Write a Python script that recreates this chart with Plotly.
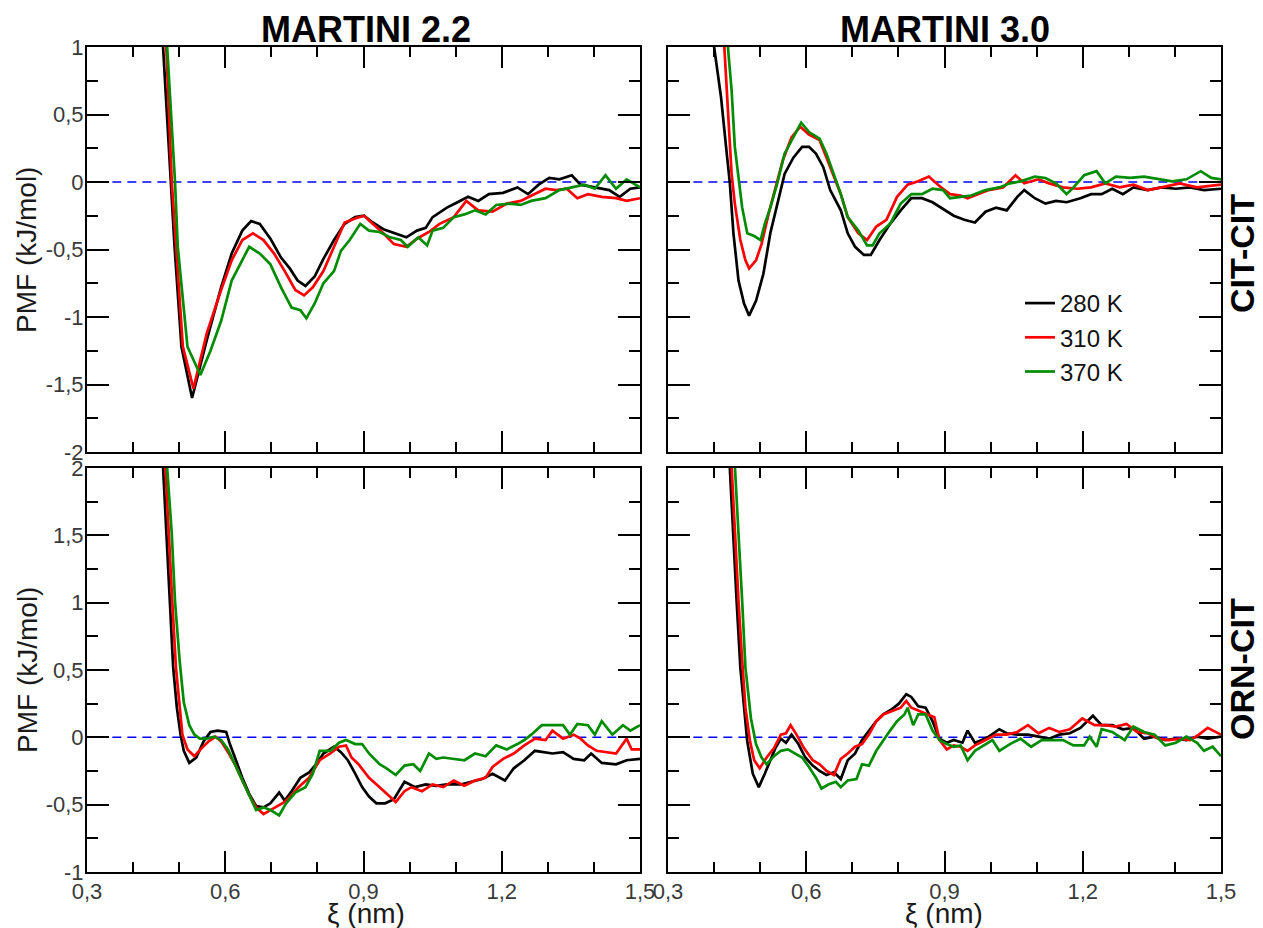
import plotly.graph_objects as go

# ---------------- data (xi in nm, PMF in kJ/mol) ----------------
series_names = ["280 K", "310 K", "370 K"]
series_colors = ["#000000", "#ff0000", "#008c00"]

zero_x = [0.355, 1.5]
zero_y = [0.0, 0.0]

# MARTINI 2.2, CIT-CIT
m22_cit_280_x = [0.460, 0.465, 0.481, 0.490, 0.505, 0.528, 0.560, 0.591, 0.614, 0.637, 0.656, 0.675, 0.698, 0.721, 0.740, 0.757, 0.774, 0.794, 0.813, 0.836, 0.859, 0.882, 0.901, 0.920, 0.943, 0.966, 0.993, 1.016, 1.035, 1.050, 1.081, 1.104, 1.127, 1.149, 1.172, 1.203, 1.234, 1.257, 1.280, 1.303, 1.325, 1.352, 1.371, 1.402, 1.433, 1.456, 1.479, 1.500]
m22_cit_280_y = [1.30, 1.00, 0.00, -0.48, -1.22, -1.60, -1.17, -0.78, -0.53, -0.36, -0.29, -0.31, -0.42, -0.56, -0.64, -0.73, -0.77, -0.70, -0.57, -0.43, -0.31, -0.26, -0.25, -0.30, -0.35, -0.38, -0.41, -0.36, -0.34, -0.26, -0.19, -0.15, -0.11, -0.14, -0.09, -0.08, -0.04, -0.09, -0.02, 0.03, 0.02, 0.05, -0.02, -0.04, -0.06, -0.11, -0.05, -0.04]
m22_cit_310_x = [0.466, 0.472, 0.484, 0.493, 0.508, 0.531, 0.560, 0.591, 0.614, 0.637, 0.660, 0.683, 0.706, 0.729, 0.752, 0.771, 0.790, 0.813, 0.836, 0.859, 0.882, 0.901, 0.920, 0.943, 0.966, 0.993, 1.016, 1.042, 1.065, 1.096, 1.123, 1.149, 1.180, 1.211, 1.241, 1.272, 1.295, 1.318, 1.341, 1.364, 1.387, 1.417, 1.448, 1.471, 1.500]
m22_cit_310_y = [1.30, 1.00, 0.00, -0.48, -1.22, -1.53, -1.12, -0.80, -0.58, -0.43, -0.38, -0.43, -0.53, -0.66, -0.80, -0.84, -0.78, -0.66, -0.48, -0.30, -0.27, -0.25, -0.31, -0.38, -0.46, -0.48, -0.42, -0.37, -0.31, -0.26, -0.14, -0.21, -0.22, -0.16, -0.14, -0.09, -0.05, -0.06, -0.05, -0.12, -0.09, -0.11, -0.12, -0.14, -0.12]
m22_cit_370_x = [0.468, 0.474, 0.491, 0.497, 0.518, 0.546, 0.568, 0.591, 0.614, 0.637, 0.652, 0.675, 0.698, 0.721, 0.744, 0.763, 0.776, 0.794, 0.813, 0.836, 0.851, 0.870, 0.893, 0.912, 0.935, 0.958, 0.981, 0.996, 1.019, 1.038, 1.050, 1.073, 1.096, 1.119, 1.142, 1.165, 1.188, 1.218, 1.241, 1.264, 1.295, 1.325, 1.356, 1.379, 1.402, 1.425, 1.448, 1.471, 1.500]
m22_cit_370_y = [1.30, 1.00, 0.00, -0.48, -1.22, -1.43, -1.25, -1.03, -0.73, -0.58, -0.48, -0.53, -0.61, -0.78, -0.93, -0.95, -1.01, -0.90, -0.75, -0.66, -0.51, -0.43, -0.31, -0.36, -0.37, -0.41, -0.43, -0.48, -0.41, -0.47, -0.36, -0.34, -0.26, -0.24, -0.21, -0.24, -0.17, -0.16, -0.17, -0.14, -0.12, -0.06, -0.04, -0.02, -0.05, 0.05, -0.05, 0.02, -0.04]

# MARTINI 3.0, CIT-CIT
m30_cit_280_x = [0.390, 0.400, 0.415, 0.426, 0.434, 0.442, 0.453, 0.465, 0.476, 0.491, 0.507, 0.522, 0.537, 0.553, 0.572, 0.591, 0.606, 0.621, 0.637, 0.652, 0.675, 0.690, 0.706, 0.725, 0.740, 0.759, 0.782, 0.805, 0.828, 0.851, 0.874, 0.893, 0.920, 0.943, 0.966, 0.989, 1.012, 1.035, 1.058, 1.073, 1.096, 1.119, 1.142, 1.165, 1.195, 1.218, 1.241, 1.264, 1.287, 1.310, 1.341, 1.371, 1.402, 1.433, 1.463, 1.500]
m30_cit_280_y = [1.25, 1.00, 0.63, 0.26, 0.00, -0.38, -0.73, -0.90, -0.99, -0.88, -0.68, -0.38, -0.16, 0.06, 0.18, 0.26, 0.26, 0.21, 0.11, -0.06, -0.21, -0.38, -0.48, -0.54, -0.54, -0.43, -0.31, -0.21, -0.12, -0.12, -0.15, -0.19, -0.25, -0.28, -0.30, -0.22, -0.19, -0.21, -0.11, -0.06, -0.12, -0.16, -0.14, -0.15, -0.12, -0.09, -0.09, -0.05, -0.09, -0.04, -0.06, -0.04, -0.05, -0.04, -0.06, -0.05]
m30_cit_310_x = [0.418, 0.422, 0.430, 0.438, 0.445, 0.457, 0.468, 0.476, 0.491, 0.503, 0.518, 0.533, 0.549, 0.568, 0.587, 0.606, 0.629, 0.644, 0.660, 0.675, 0.690, 0.713, 0.732, 0.752, 0.774, 0.797, 0.820, 0.843, 0.866, 0.889, 0.912, 0.935, 0.950, 0.973, 0.996, 1.027, 1.054, 1.073, 1.104, 1.127, 1.157, 1.188, 1.218, 1.249, 1.280, 1.310, 1.341, 1.371, 1.410, 1.448, 1.500]
m30_cit_310_y = [1.25, 1.00, 0.51, 0.06, -0.16, -0.43, -0.58, -0.64, -0.58, -0.46, -0.24, -0.04, 0.16, 0.33, 0.41, 0.35, 0.31, 0.18, 0.04, -0.09, -0.26, -0.38, -0.43, -0.33, -0.28, -0.11, -0.02, 0.005, 0.04, -0.03, -0.09, -0.10, -0.12, -0.09, -0.06, -0.04, 0.05, -0.01, 0.02, -0.01, -0.04, -0.05, -0.04, -0.01, -0.04, -0.02, -0.06, -0.04, -0.01, -0.04, -0.02]
m30_cit_370_x = [0.425, 0.430, 0.438, 0.445, 0.453, 0.461, 0.472, 0.487, 0.501, 0.510, 0.522, 0.537, 0.553, 0.572, 0.589, 0.606, 0.629, 0.644, 0.660, 0.675, 0.690, 0.713, 0.732, 0.744, 0.759, 0.782, 0.805, 0.828, 0.851, 0.874, 0.897, 0.912, 0.935, 0.958, 0.989, 1.019, 1.042, 1.065, 1.096, 1.119, 1.142, 1.165, 1.180, 1.203, 1.230, 1.249, 1.272, 1.303, 1.333, 1.364, 1.394, 1.425, 1.456, 1.479, 1.500]
m30_cit_370_y = [1.20, 1.00, 0.68, 0.26, 0.01, -0.19, -0.38, -0.40, -0.43, -0.31, -0.19, -0.01, 0.21, 0.33, 0.44, 0.37, 0.32, 0.21, 0.06, -0.09, -0.26, -0.36, -0.47, -0.47, -0.38, -0.31, -0.16, -0.09, -0.09, -0.05, -0.06, -0.12, -0.11, -0.10, -0.06, -0.04, -0.01, 0.005, 0.04, 0.03, -0.01, -0.09, -0.04, 0.05, 0.08, -0.01, 0.04, 0.03, 0.04, 0.02, 0.005, 0.02, 0.08, 0.03, 0.02]

# MARTINI 2.2, ORN-CIT
m22_orn_280_x = [0.461, 0.465, 0.472, 0.480, 0.487, 0.495, 0.503, 0.510, 0.522, 0.537, 0.553, 0.568, 0.583, 0.602, 0.610, 0.621, 0.637, 0.652, 0.667, 0.683, 0.698, 0.717, 0.729, 0.744, 0.763, 0.782, 0.797, 0.813, 0.836, 0.851, 0.866, 0.882, 0.897, 0.912, 0.928, 0.947, 0.966, 0.989, 1.012, 1.035, 1.058, 1.081, 1.111, 1.134, 1.157, 1.180, 1.207, 1.226, 1.249, 1.272, 1.287, 1.310, 1.333, 1.356, 1.379, 1.394, 1.417, 1.448, 1.471, 1.500]
m22_orn_280_y = [2.28, 2.00, 1.51, 1.01, 0.52, 0.22, 0.02, -0.10, -0.19, -0.15, -0.03, 0.04, 0.05, 0.04, -0.05, -0.15, -0.30, -0.42, -0.51, -0.52, -0.49, -0.41, -0.47, -0.40, -0.30, -0.26, -0.20, -0.12, -0.07, -0.11, -0.17, -0.27, -0.37, -0.44, -0.49, -0.49, -0.46, -0.33, -0.37, -0.35, -0.36, -0.35, -0.35, -0.33, -0.31, -0.27, -0.32, -0.23, -0.17, -0.10, -0.11, -0.12, -0.11, -0.16, -0.17, -0.12, -0.19, -0.20, -0.17, -0.16]
m22_orn_310_x = [0.466, 0.470, 0.478, 0.485, 0.493, 0.501, 0.507, 0.518, 0.533, 0.549, 0.564, 0.579, 0.591, 0.606, 0.621, 0.637, 0.652, 0.667, 0.683, 0.698, 0.713, 0.729, 0.744, 0.759, 0.782, 0.805, 0.828, 0.847, 0.862, 0.874, 0.889, 0.912, 0.935, 0.950, 0.970, 0.989, 1.004, 1.027, 1.050, 1.073, 1.096, 1.119, 1.142, 1.165, 1.180, 1.203, 1.226, 1.249, 1.272, 1.295, 1.310, 1.333, 1.356, 1.371, 1.387, 1.406, 1.433, 1.448, 1.471, 1.482, 1.500]
m22_orn_310_y = [2.28, 2.00, 1.51, 1.01, 0.52, 0.22, 0.02, -0.09, -0.14, -0.08, -0.03, 0.005, -0.03, -0.11, -0.20, -0.32, -0.43, -0.52, -0.57, -0.54, -0.51, -0.48, -0.43, -0.37, -0.30, -0.17, -0.12, -0.07, -0.06, -0.15, -0.20, -0.30, -0.37, -0.42, -0.48, -0.40, -0.37, -0.40, -0.35, -0.37, -0.32, -0.36, -0.32, -0.30, -0.22, -0.16, -0.12, -0.06, -0.01, -0.02, 0.05, -0.01, 0.02, -0.01, -0.06, -0.10, -0.11, -0.12, -0.01, -0.09, -0.09]
m22_orn_370_x = [0.470, 0.474, 0.484, 0.491, 0.501, 0.510, 0.522, 0.533, 0.545, 0.560, 0.576, 0.591, 0.606, 0.621, 0.637, 0.652, 0.667, 0.683, 0.698, 0.717, 0.732, 0.752, 0.774, 0.790, 0.805, 0.828, 0.847, 0.862, 0.882, 0.897, 0.912, 0.935, 0.950, 0.970, 0.989, 1.008, 1.023, 1.042, 1.058, 1.073, 1.096, 1.119, 1.142, 1.165, 1.188, 1.211, 1.234, 1.249, 1.264, 1.287, 1.310, 1.333, 1.348, 1.364, 1.387, 1.402, 1.417, 1.440, 1.463, 1.479, 1.500]
m22_orn_370_y = [2.28, 2.00, 1.51, 1.01, 0.57, 0.26, 0.09, 0.02, -0.01, -0.01, 0.005, -0.02, -0.09, -0.20, -0.32, -0.43, -0.54, -0.52, -0.54, -0.58, -0.49, -0.41, -0.37, -0.27, -0.10, -0.10, -0.04, -0.02, -0.05, -0.05, -0.12, -0.20, -0.23, -0.28, -0.21, -0.20, -0.25, -0.12, -0.16, -0.15, -0.16, -0.17, -0.12, -0.14, -0.06, -0.09, -0.05, -0.02, 0.02, 0.09, 0.09, 0.09, 0.02, 0.10, 0.09, 0.02, 0.12, 0.02, 0.09, 0.05, 0.09]

# MARTINI 3.0, ORN-CIT
m30_orn_280_x = [0.430, 0.434, 0.442, 0.449, 0.457, 0.465, 0.472, 0.484, 0.497, 0.510, 0.522, 0.533, 0.545, 0.556, 0.568, 0.583, 0.598, 0.614, 0.629, 0.644, 0.660, 0.675, 0.690, 0.706, 0.721, 0.736, 0.752, 0.767, 0.786, 0.801, 0.817, 0.828, 0.843, 0.859, 0.874, 0.889, 0.905, 0.920, 0.939, 0.950, 0.966, 0.981, 0.996, 1.019, 1.035, 1.058, 1.081, 1.104, 1.127, 1.149, 1.172, 1.195, 1.222, 1.241, 1.264, 1.287, 1.310, 1.333, 1.356, 1.379, 1.402, 1.425, 1.448, 1.471, 1.500]
m30_orn_280_y = [2.28, 2.00, 1.51, 1.01, 0.52, 0.22, -0.03, -0.27, -0.37, -0.27, -0.17, -0.08, -0.01, -0.04, 0.02, -0.05, -0.15, -0.21, -0.25, -0.28, -0.26, -0.31, -0.17, -0.12, -0.02, 0.05, 0.12, 0.17, 0.21, 0.25, 0.32, 0.30, 0.23, 0.22, 0.12, -0.01, -0.04, -0.02, -0.04, 0.05, -0.04, -0.02, 0.005, 0.06, 0.03, 0.02, 0.02, 0.005, -0.01, 0.02, 0.03, 0.07, 0.16, 0.09, 0.09, 0.06, 0.07, -0.01, 0.005, -0.02, -0.01, -0.02, 0.005, -0.01, 0.005]
m30_orn_310_x = [0.434, 0.438, 0.445, 0.453, 0.461, 0.468, 0.478, 0.487, 0.499, 0.514, 0.530, 0.545, 0.556, 0.566, 0.579, 0.595, 0.614, 0.629, 0.644, 0.660, 0.675, 0.690, 0.706, 0.721, 0.736, 0.752, 0.767, 0.790, 0.805, 0.817, 0.828, 0.843, 0.862, 0.878, 0.889, 0.905, 0.920, 0.935, 0.950, 0.966, 0.989, 1.012, 1.035, 1.058, 1.081, 1.104, 1.127, 1.149, 1.172, 1.199, 1.226, 1.249, 1.272, 1.295, 1.318, 1.341, 1.364, 1.387, 1.410, 1.433, 1.452, 1.471, 1.500]
m30_orn_310_y = [2.28, 2.00, 1.51, 1.01, 0.57, 0.22, -0.03, -0.17, -0.23, -0.15, -0.08, 0.02, 0.03, 0.09, 0.02, -0.08, -0.17, -0.20, -0.25, -0.28, -0.16, -0.12, -0.07, -0.05, 0.02, 0.12, 0.17, 0.20, 0.22, 0.27, 0.22, 0.20, 0.17, 0.15, -0.02, -0.09, -0.06, -0.07, -0.10, -0.06, -0.02, 0.02, 0.02, 0.04, 0.09, 0.03, 0.07, 0.04, 0.06, 0.14, 0.09, 0.09, 0.08, 0.10, 0.04, 0.03, -0.01, -0.02, -0.01, -0.02, 0.02, 0.07, 0.02]
m30_orn_370_x = [0.441, 0.445, 0.453, 0.461, 0.468, 0.480, 0.491, 0.503, 0.514, 0.530, 0.545, 0.560, 0.576, 0.591, 0.606, 0.621, 0.633, 0.648, 0.664, 0.675, 0.690, 0.709, 0.721, 0.736, 0.752, 0.767, 0.782, 0.797, 0.813, 0.820, 0.832, 0.843, 0.859, 0.874, 0.889, 0.905, 0.920, 0.935, 0.950, 0.966, 0.989, 1.004, 1.019, 1.042, 1.065, 1.088, 1.111, 1.134, 1.157, 1.180, 1.203, 1.215, 1.230, 1.241, 1.264, 1.291, 1.310, 1.333, 1.356, 1.379, 1.402, 1.425, 1.448, 1.463, 1.482, 1.500]
m30_orn_370_y = [2.28, 2.00, 1.51, 1.01, 0.52, 0.14, -0.05, -0.15, -0.20, -0.14, -0.10, -0.09, -0.12, -0.15, -0.22, -0.30, -0.38, -0.35, -0.33, -0.37, -0.32, -0.31, -0.20, -0.21, -0.10, -0.02, 0.05, 0.12, 0.17, 0.22, 0.09, 0.17, 0.17, 0.05, -0.02, -0.05, -0.07, -0.06, -0.17, -0.10, -0.05, -0.02, -0.10, -0.05, -0.01, -0.07, -0.02, -0.02, -0.02, -0.06, -0.06, 0.005, -0.07, 0.06, 0.04, -0.02, 0.08, 0.04, 0.02, -0.06, -0.04, 0.005, -0.04, -0.10, -0.07, -0.14]

# tick labels
x_tickvals = [0.3, 0.6, 0.9, 1.2, 1.5]
x_ticktext = ["0,3", "0,6", "0,9", "1,2", "1,5"]
y_top_tickvals = [1, 0.5, 0, -0.5, -1, -1.5, -2]
y_top_ticktext = ["1", "0,5", "0", "-0,5", "-1", "-1,5", "-2"]
y_bot_tickvals = [2, 1.5, 1, 0.5, 0, -0.5, -1]
y_bot_ticktext = ["2", "1,5", "1", "0,5", "0", "-0,5", "-1"]

col_titles = ["MARTINI 2.2", "MARTINI 3.0"]
row_titles = ["CIT-CIT", "ORN-CIT"]
y_title = "PMF (kJ/mol)"
x_title = "\u03be (nm)"

# ---------------- figure ----------------
W, H = 1263, 928
def px(x):
    return x / W
def py(y):
    return 1 - y / H

panels = [
    ("x", "y", [(m22_cit_280_x, m22_cit_280_y), (m22_cit_310_x, m22_cit_310_y), (m22_cit_370_x, m22_cit_370_y)]),
    ("x2", "y2", [(m30_cit_280_x, m30_cit_280_y), (m30_cit_310_x, m30_cit_310_y), (m30_cit_370_x, m30_cit_370_y)]),
    ("x3", "y3", [(m22_orn_280_x, m22_orn_280_y), (m22_orn_310_x, m22_orn_310_y), (m22_orn_370_x, m22_orn_370_y)]),
    ("x4", "y4", [(m30_orn_280_x, m30_orn_280_y), (m30_orn_310_x, m30_orn_310_y), (m30_orn_370_x, m30_orn_370_y)]),
]

fig = go.Figure()
for xa, ya, curves in panels:
    fig.add_trace(go.Scatter(x=zero_x, y=zero_y, mode="lines", xaxis=xa, yaxis=ya,
                             line=dict(color="#0000ff", width=1.5, dash="9px,6px"),
                             showlegend=False, hoverinfo="skip"))
for xa, ya, curves in panels:
    for i, (cx, cy) in enumerate(curves):
        fig.add_trace(go.Scatter(x=cx, y=cy, mode="lines", xaxis=xa, yaxis=ya,
                                 name=series_names[i], legendgroup=series_names[i],
                                 showlegend=(xa == "x2"),
                                 line=dict(color=series_colors[i], width=2.7)))

tick_font = dict(family="Liberation Sans, Arial, sans-serif", size=22, color="#3a3a3a")

def xaxis(domain, anchor, labels):
    return dict(domain=domain, anchor=anchor, range=[0.3, 1.5], automargin=False,
                tickmode="array", tickvals=x_tickvals, ticktext=x_ticktext,
                showticklabels=labels, tickfont=tick_font, ticklabelstandoff=-1,
                ticks="inside", ticklen=21, tickwidth=2, tickcolor="black",
                minor=dict(ticks="inside", ticklen=10, tickwidth=2, tickcolor="black",
                           tickmode="linear", tick0=0.3, dtick=0.1),
                showline=True, linecolor="black", linewidth=2, mirror="ticks",
                showgrid=False, zeroline=False, fixedrange=True)

def yaxis(domain, anchor, rng, vals, text, labels):
    return dict(domain=domain, anchor=anchor, range=rng, automargin=False,
                tickmode="array", tickvals=vals, ticktext=text,
                showticklabels=labels, tickfont=tick_font, ticklabelstandoff=-3,
                ticks="inside", ticklen=22, tickwidth=2, tickcolor="black",
                minor=dict(ticks="inside", ticklen=11, tickwidth=2, tickcolor="black",
                           tickmode="linear", tick0=0, dtick=0.25),
                showline=True, linecolor="black", linewidth=2, mirror="ticks",
                showgrid=False, zeroline=False, fixedrange=True)

xl = [px(87), px(640)]
xr = [px(668), px(1221)]
yt = [py(452), py(47)]
yb = [py(872), py(468)]

fig.update_layout(
    width=W, height=H, autosize=False,
    margin=dict(l=0, r=0, t=0, b=0, autoexpand=False),
    paper_bgcolor="white", plot_bgcolor="white",
    separators=",.",
    xaxis=xaxis(xl, "y", False),
    xaxis2=xaxis(xr, "y2", False),
    xaxis3=xaxis(xl, "y3", True),
    xaxis4=xaxis(xr, "y4", True),
    yaxis=yaxis(yt, "x", [-2, 1], y_top_tickvals, y_top_ticktext, True),
    yaxis2=yaxis(yt, "x2", [-2, 1], y_top_tickvals, y_top_ticktext, False),
    yaxis3=yaxis(yb, "x3", [-1, 2], y_bot_tickvals, y_bot_ticktext, True),
    yaxis4=yaxis(yb, "x4", [-1, 2], y_bot_tickvals, y_bot_ticktext, False),
    showlegend=True,
    legend=dict(x=px(1020), y=py(281), xanchor="left", yanchor="top",
                bgcolor="rgba(0,0,0,0)", borderwidth=0,
                font=dict(family="Liberation Sans, Arial, sans-serif", size=24, color="#111111"),
                itemwidth=30, tracegroupgap=0, traceorder="normal"),
)

bold_font = dict(family="Liberation Sans, Arial, sans-serif", size=36, color="black", weight="bold")
row_font = dict(family="Liberation Sans, Arial, sans-serif", size=34, color="black", weight="bold")
lab_font = dict(family="Liberation Sans, Arial, sans-serif", size=28, color="#1a1a1a")

ann = []
ann.append(dict(text=col_titles[0], x=px(366), y=py(29), font=bold_font))
ann.append(dict(text=col_titles[1], x=px(945), y=py(29), font=bold_font))
ann.append(dict(text=row_titles[0], x=px(1242), y=py(254), font=row_font, textangle=-90))
ann.append(dict(text=row_titles[1], x=px(1242), y=py(669), font=row_font, textangle=-90))
ann.append(dict(text=y_title, x=px(27), y=py(250), font=lab_font, textangle=-90))
ann.append(dict(text=y_title, x=px(27), y=py(670), font=lab_font, textangle=-90))
ann.append(dict(text=x_title, x=px(366), y=py(913), font=lab_font))
ann.append(dict(text=x_title, x=px(944), y=py(913), font=lab_font))
for a in ann:
    a.update(xref="paper", yref="paper", showarrow=False, xanchor="center", yanchor="middle")
fig.update_layout(annotations=ann)

fig.write_html("out.html", config={"displayModeBar": False},
               post_script="document.body.style.margin='0px';document.body.style.overflow='hidden';")
